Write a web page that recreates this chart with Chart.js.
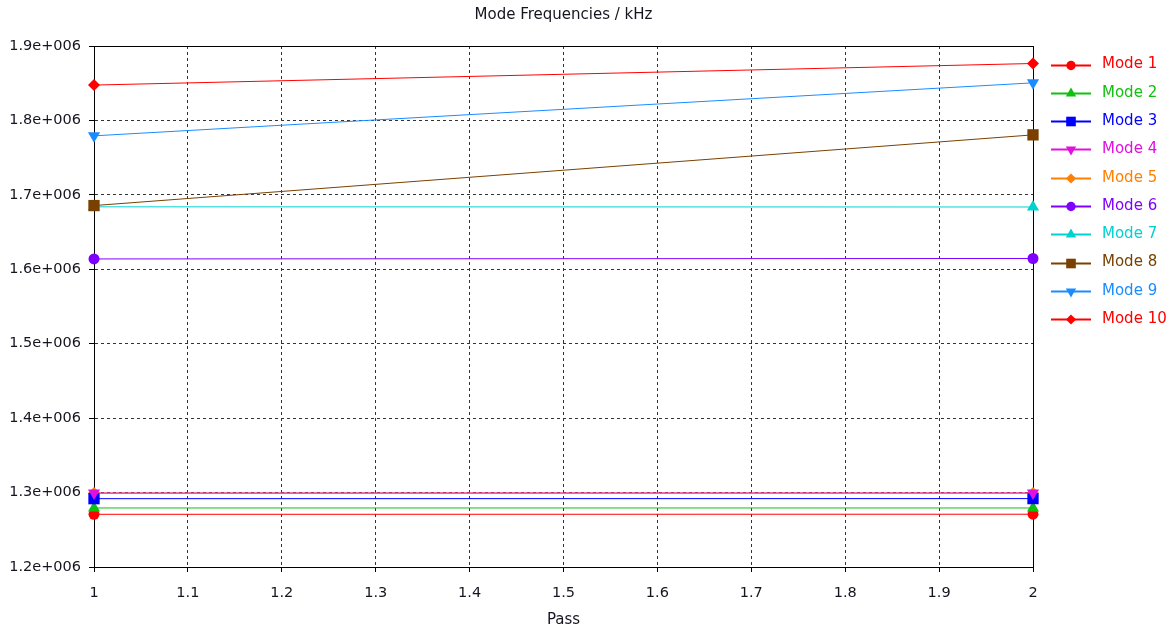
<!DOCTYPE html>
<html>
<head>
<meta charset="utf-8">
<script src="https://cdn.jsdelivr.net/npm/chart.js@4/dist/chart.umd.min.js"></script>
<style>
  html, body { margin: 0; padding: 0; background: #fff; }
  #wrap { width: 1174px; height: 633px; }
</style>
</head>
<body>
<div id="wrap"><canvas id="chart" width="1174" height="633"></canvas></div>
<script>
// values (pass 1, pass 2)
const passes = [1, 2];
const modeNames = ['Mode 1', 'Mode 2', 'Mode 3', 'Mode 4', 'Mode 5', 'Mode 6', 'Mode 7', 'Mode 8', 'Mode 9', 'Mode 10'];
const mode1 = [1270800, 1270900];
const mode2 = [1279300, 1279300];
const mode3 = [1291800, 1291900];
const mode4 = [1299300, 1299400];
const mode5 = [1299300, 1299400];
const mode6 = [1613900, 1614500];
const mode7 = [1683900, 1683700];
const mode8 = [1685600, 1780600];
const mode9 = [1779300, 1850500];
const mode10 = [1847500, 1876500];
const yTicks = [1200000, 1300000, 1400000, 1500000, 1600000, 1700000, 1800000, 1900000];
const titleText = 'Mode Frequencies / kHz';

const allModes = [mode1, mode2, mode3, mode4, mode5, mode6, mode7, mode8, mode9, mode10];
const colors = ['#ff0000', '#10c010', '#0000ff', '#e010e0', '#ff8000', '#8000ff', '#00d2d2', '#7a4000', '#1a8cff', '#ff0000'];
const styles = ['circle', 'triangle', 'rect', 'triangle', 'rectRot', 'circle', 'triangle', 'rect', 'triangle', 'rectRot'];
const rotations = [0, 0, 0, 180, 0, 0, 0, 0, 180, 0];
// marker radius per style so the shapes look about the same size
const radiusFor = { circle: 5.5, triangle: 7, rect: 8, rectRot: 6 };
const textColor = '#151520';

// later modes sit on top (like the original); mode 5 is hidden below mode 4
const drawOrder = [10, 9, 8, 6, 8.5, 5, 4, 3, 2, 1];

const datasets = allModes.map((vals, i) => ({
    label: modeNames[i],
    data: passes.map((p, j) => ({ x: p, y: vals[j] })),
    borderColor: colors[i],
    backgroundColor: colors[i],
    borderWidth: 1,
    pointStyle: styles[i],
    pointRotation: rotations[i],
    pointRadius: radiusFor[styles[i]],
    pointBorderWidth: 0,
    showLine: true,
    clip: false,
    order: drawOrder[i]
}));

// solid frame round the plot area (top/right too) + title centred over plot
const frame = {
    id: 'frame',
    beforeDatasetsDraw(chart) {
        const a = chart.chartArea, ctx = chart.ctx;
        ctx.save();
        ctx.strokeStyle = '#000';
        ctx.lineWidth = 1;
        ctx.setLineDash([]);
        ctx.strokeRect(Math.round(a.left) + 0.5, Math.round(a.top) + 0.5, Math.round(a.right - a.left), Math.round(a.bottom - a.top));
        ctx.fillStyle = textColor;
        ctx.font = '15px "DejaVu Sans"';
        ctx.textAlign = 'center';
        ctx.textBaseline = 'middle';
        ctx.fillText(titleText, (a.left + a.right) / 2, 15);
        ctx.restore();
    }
};

// legend with line + marker, like the original tool draws it
const sideLegend = {
    id: 'sideLegend',
    afterDraw(chart) {
        const ctx = chart.ctx;
        ctx.save();
        ctx.font = '15px "DejaVu Sans"';
        ctx.textBaseline = 'middle';
        chart.data.datasets.forEach((ds, i) => {
            const y = 64.5 + i * 28.3;
            ctx.strokeStyle = ds.borderColor;
            ctx.fillStyle = ds.borderColor;
            ctx.lineWidth = 2;
            ctx.beginPath();
            ctx.moveTo(1051, Math.round(y) + 0.5);
            ctx.lineTo(1091, Math.round(y) + 0.5);
            ctx.stroke();
            Chart.helpers.drawPoint(ctx, {
                pointStyle: ds.pointStyle,
                rotation: ds.pointRotation,
                radius: ds.pointRadius * 0.85,
                borderWidth: 0
            }, 1071, Math.round(y) + 0.5);
            ctx.fillText(ds.label, 1102, y);
        });
        ctx.restore();
    }
};

const gridOpts = {
    color: '#333',
    tickLength: 5,
    tickColor: '#000',
    tickBorderDash: [0, 0]
};

new Chart(document.getElementById('chart'), {
    type: 'scatter',
    data: { datasets },
    options: {
        responsive: false,
        animation: false,
        layout: { padding: { left: 0, right: 141, top: 46, bottom: 0 } },
        plugins: {
            legend: { display: false },
            tooltip: { enabled: false },
            title: { display: false }
        },
        scales: {
            x: {
                type: 'linear',
                min: 1,
                max: 2,
                afterFit: s => { s.height = 66; },
                ticks: {
                    stepSize: 0.1,
                    color: textColor,
                    padding: 13,
                    maxRotation: 0,
                    font: { family: 'DejaVu Sans', size: 14.5 },
                    callback: v => String(Number(v.toFixed(1)))
                },
                grid: gridOpts,
                border: { color: '#000', width: 1, dash: [3, 3] },
                title: {
                    display: true,
                    text: 'Pass',
                    color: textColor,
                    font: { family: 'DejaVu Sans', size: 15, lineHeight: 1.2 },
                    padding: { top: 4, bottom: 4 }
                }
            },
            y: {
                min: 1200000,
                max: 1900000,
                afterFit: s => { s.width = 94; },
                afterBuildTicks: s => { s.ticks = yTicks.map(v => ({ value: v })); },
                ticks: {
                    color: textColor,
                    padding: 8,
                    font: { family: 'DejaVu Sans', size: 14.5 },
                    callback: v => (v / 1e6).toFixed(1) + 'e+006'
                },
                grid: gridOpts,
                border: { color: '#000', width: 1, dash: [3, 3] }
            }
        }
    },
    plugins: [frame, sideLegend]
});
</script>
</body>
</html>
